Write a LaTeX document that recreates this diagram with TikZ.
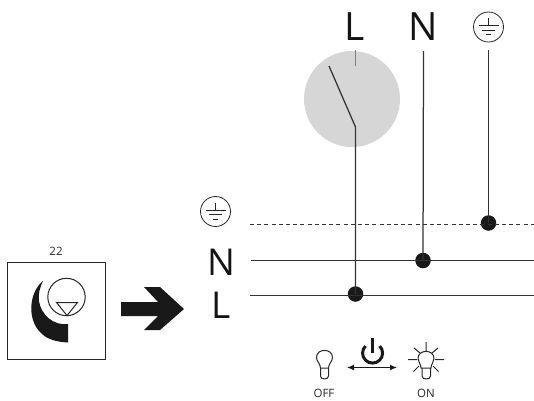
\documentclass[tikz,border=0pt]{standalone}
\usepackage{fontspec}
\usetikzlibrary{arrows.meta}
\setmainfont{DejaVu Sans}
\newfontfamily\opensans{Open Sans}
\begin{document}
\begin{tikzpicture}[x=1pt,y=-1pt,line cap=butt,
  wire/.style={line width=1.25pt,draw=black!80},
  thin wire/.style={line width=1.2pt,draw=black!50},
  dot/.style={circle,fill=black!90,draw=none,minimum size=15.5pt,inner sep=0pt},
  bigletter/.style={font=\opensans\fontsize{39}{40}\selectfont,text=black!92,inner sep=0pt},
  leftletter/.style={font=\opensans\fontsize{37}{38}\selectfont,text=black!92,inner sep=0pt},
  smalllabel/.style={font=\opensans\fontsize{11.5}{12}\selectfont,text=black!85,inner sep=0pt},
  glyphline/.style={line width=0.8pt,draw=black!85},
  bulb/.style={line width=1pt,draw=black!85,line join=round},
  earth/.pic={
    \draw[glyphline] (0,0) circle (15);
    \draw[glyphline] (0,-9)--(0,-1.5);
    \draw[glyphline] (-10,-1.5)--(10,-1.5);
    \draw[glyphline] (-6.5,3)--(6.5,3);
    \draw[glyphline] (-2.5,7.5)--(2.5,7.5);
  }]
\useasboundingbox (0,0) rectangle (534,400);
% switch disc
\fill[black!16] (352,99) circle (48);
% top labels
\node[bigletter] (topL) at (355,27) {L};
\node[bigletter] (topN) at (423,27) {N};
\pic at (488.5,27) {earth};
% coordinates
\coordinate (Lin) at (355.5,50);
\coordinate (Lin2) at (355.5,66);
\coordinate (pivot) at (355.5,127);
\coordinate (blade) at (329,66);
\coordinate (Nt) at (423.5,51);
\coordinate (Et) at (488.5,50);
\node[dot] (dL) at (355.5,294) {};
\node[dot] (dN) at (423,260.5) {};
\node[dot] (dE) at (488.5,223) {};
\draw[thin wire] (Lin)--(Lin2);
\draw[wire] (blade)--(pivot)--(dL.center);
\draw[wire] (Nt)--(dN.center);
\draw[wire] (Et)--(dE.center);
% horizontal
\coordinate (Ns) at (251,260.5);\coordinate (Ne) at (534,260.5);
\coordinate (Ls) at (250,295.5);\coordinate (Le) at (534,295.5);
\coordinate (Es) at (250,224.5);\coordinate (Ee) at (534,224.5);
\draw[wire] (Ns)--(Ne);
\draw[wire] (Ls)--(Le);
\draw[wire,dash pattern=on 4pt off 3.2pt] (Es)--(Ee);
% left labels
\pic at (215.5,211.5) {earth};
\node[leftletter] (leftN) at (221,262) {N};
\node[leftletter] (leftL) at (221,305) {L};
% box
\node[smalllabel] (n22) at (56,251) {22};
\draw[line width=0.9pt,draw=black!85] (7.5,262.5) rectangle (105.5,359.5);
\fill[black!90] (43,281) .. controls (29,292) and (27,319) .. (40,332) .. controls (47,340) and (58,342) .. (68,342.5) -- (68,324) .. controls (54,326) and (41,315) .. (39,301) .. controls (38,294) and (40,287) .. (43,281) -- cycle;
\draw[line width=1pt,draw=black!85] (66.5,297) circle (18.7);
\draw[line width=1pt,draw=black!85] (56.5,302.5)--(77.5,302.5)--(67,315.5)--cycle;
% big arrow
\fill[black!90] (121,302) -- (158,302) -- (144,287) -- (160,287) -- (184,309) -- (160,330) -- (144,330) -- (158,316) -- (121,316) -- cycle;
% OFF bulb
\draw[bulb] (320.5,368) .. controls (320.5,364) and (316.5,361) .. (316.5,357.5) .. controls (316.5,348) and (332.5,348) .. (332.5,357.5) .. controls (332.5,361) and (328.5,364) .. (328.5,368) -- cycle;
\draw[bulb] (320.5,368) -- (320.5,376) .. controls (320.5,380) and (328.5,380) .. (328.5,376) -- (328.5,368);
% power symbol
\draw[line width=3pt,draw=black!90] (372.5,338)--(372.5,353);
\draw[line width=3pt,draw=black!90] (365.5,346) arc[start angle=225,end angle=-45,radius=10];
\draw[line width=1.2pt,draw=black!90,{Latex[length=7pt,width=6pt]}-{Latex[length=7pt,width=6pt]}] (347,367.5)--(397,367.5);
% ON bulb
\draw[bulb] (421,368) .. controls (421,364) and (418,362) .. (418,358.5) .. controls (418,349) and (434,349) .. (434,358.5) .. controls (434,362) and (431,364) .. (431,368) -- cycle;
\draw[bulb] (422,368) -- (422,376) .. controls (422,380) and (430.5,380) .. (430.5,376) -- (430.5,368);
\draw[bulb] (426,342)--(426,351) (408,359.5)--(417,359.5) (435,359.5)--(444,359.5)
 (414,348)--(420,353) (438,348)--(432,353) (413.5,371.5)--(419,366) (438.5,371.5)--(433,366);
\node[smalllabel] (off) at (324,393) {OFF};
\node[smalllabel] (on) at (426,393) {ON};
\end{tikzpicture}
\end{document}
